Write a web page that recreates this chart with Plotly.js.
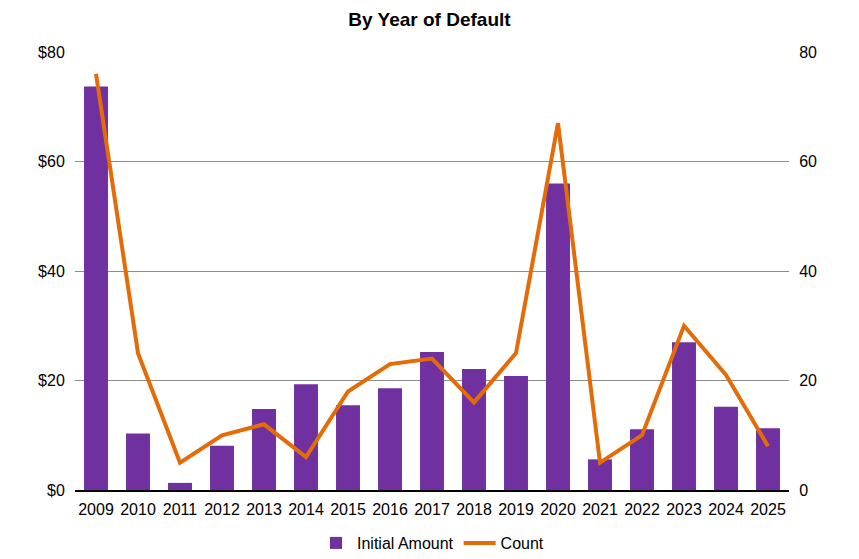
<!DOCTYPE html>
<html>
<head>
<meta charset="utf-8">
<script src="https://cdn.plot.ly/plotly-3.0.1.min.js"></script>
<style>html,body{margin:0;padding:0;background:#fff;}#chart{width:859px;height:559px;}</style>
</head>
<body>
<div id="chart"></div>
<script>
const years = ["2009","2010","2011","2012","2013","2014","2015","2016","2017","2018","2019","2020","2021","2022","2023","2024","2025"];
const initialAmount = [73.7, 10.3, 1.3, 8.1, 14.8, 19.3, 15.5, 18.6, 25.2, 22.1, 20.8, 56.0, 5.6, 11.1, 27.0, 15.2, 11.3];
const count = [76, 25, 5, 10, 12, 6, 18, 23, 24, 16, 25, 67, 5, 10, 30, 21, 8];
const leftTicks = [0, 20, 40, 60, 80];
const leftTickText = ["$0", "$20", "$40", "$60", "$80"];
const rightTicks = [0, 20, 40, 60, 80];

const FONT = "'Liberation Sans Narrow', 'Arial Narrow', 'Liberation Sans', Arial, sans-serif";

const data = [
  {type: "bar", x: years, y: initialAmount, name: "Initial Amount",
   marker: {color: "#7030A0"}, yaxis: "y"},
  {type: "scatter", mode: "lines", x: years, y: count, name: "Count",
   line: {color: "#E36C09", width: 4}, yaxis: "y2"}
];

const layout = {
  width: 859, height: 559,
  margin: {l: 75, r: 70, t: 52, b: 69, autoexpand: false},
  paper_bgcolor: "#fff", plot_bgcolor: "#fff",
  font: {family: FONT, size: 16, color: "#000"},
  title: {text: "<b>By Year of Default</b>", x: 0.5, xanchor: "center", y: 0.966, yanchor: "middle",
          font: {family: FONT, size: 19, color: "#000"}},
  bargap: 0.43,
  showlegend: true,
  legend: {orientation: "h", x: 0.5, xanchor: "center", y: -0.121, yanchor: "middle",
           font: {family: FONT, size: 16}, traceorder: "normal", itemwidth: 32},
  xaxis: {type: "category", showline: true, linecolor: "#000", linewidth: 1.5,
          ticks: "outside", ticklen: 4, tickcolor: "rgba(0,0,0,0)", showgrid: false, tickfont: {family: FONT, size: 16}},
  yaxis: {range: [0, 80], tickvals: leftTicks, ticktext: leftTickText,
          showgrid: true, gridcolor: "#8c8c8c", gridwidth: 1, zeroline: false,
          showline: false, ticks: "outside", ticklen: 6, tickcolor: "rgba(0,0,0,0)", tickfont: {family: FONT, size: 16}},
  yaxis2: {range: [0, 80], tickvals: rightTicks, overlaying: "y", side: "right",
           showgrid: false, zeroline: false, showline: false, ticks: "outside", ticklen: 6, tickcolor: "rgba(0,0,0,0)",
           tickfont: {family: FONT, size: 16}}
};

Plotly.newPlot("chart", data, layout, {displayModeBar: false, staticPlot: true});
</script>
</body>
</html>
